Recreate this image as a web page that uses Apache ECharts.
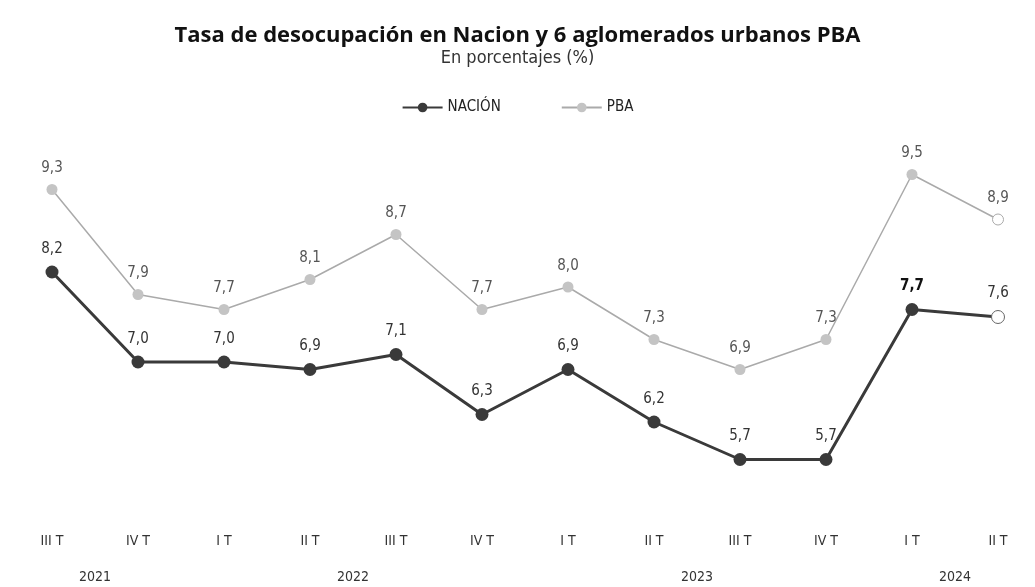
<!DOCTYPE html>
<html>
<head>
<meta charset="utf-8">
<script src="https://cdn.jsdelivr.net/npm/echarts@6/dist/echarts.min.js"></script>
<style>
  html, body { margin: 0; padding: 0; background: #fff; }
  #chart { width: 1035px; height: 587px; }
</style>
</head>
<body>
<div id="chart"></div>
<script>
const quarters = ['III T', 'IV T', 'I T', 'II T', 'III T', 'IV T', 'I T', 'II T', 'III T', 'IV T', 'I T', 'II T']
const years = ['2021', '', '', '2022', '', '', '', '2023', '', '', '2024']
const nacion = [8.2, 7.0, 7.0, 6.9, 7.1, 6.3, 6.9, 6.2, 5.7, 5.7, 7.7, 7.6]
const pba = [9.3, 7.9, 7.7, 8.1, 8.7, 7.7, 8.0, 7.3, 6.9, 7.3, 9.5, 8.9]

const narrow = '"Liberation Sans Narrow", "DejaVu Sans Condensed", "Open Sans", sans-serif'
const fmt = (p) => p.value.toFixed(1).replace('.', ',')

// last point drawn hollow, like the source
function withHollowLast (values, border) {
  return values.map((v, i) => {
    if (i !== values.length - 1) return v
    return { value: v, itemStyle: { color: '#fff', borderColor: border, borderWidth: 1 } }
  })
}

const chart = echarts.init(document.getElementById('chart'))
const option = {
  backgroundColor: '#fff',
  animation: false,
  title: {
    text: 'Tasa de desocupación en Nacion y 6 aglomerados urbanos PBA',
    subtext: 'En porcentajes (%)',
    left: 'center',
    top: 20,
    itemGap: 2,
    textStyle: { fontFamily: '"Open Sans", sans-serif', fontSize: 22, fontWeight: 'bold', color: '#111' },
    subtextStyle: { fontFamily: narrow, fontSize: 18, color: '#333' }
  },
  legend: {
    top: 95,
    left: 'center',
    itemGap: 60,
    itemWidth: 40,
    itemHeight: 12,
    textStyle: { fontFamily: narrow, fontSize: 15, color: '#222' },
    data: ['NACIÓN', 'PBA']
  },
  grid: { left: 52, right: 37, top: 137, bottom: 75 },
  xAxis: [
    {
      type: 'category',
      boundaryGap: false,
      data: quarters,
      axisLine: { show: false },
      axisTick: { show: false },
      axisLabel: { interval: 0, margin: 22, fontFamily: narrow, fontSize: 14, color: '#333' }
    },
    {
      type: 'category',
      position: 'bottom',
      boundaryGap: true,
      data: years,
      axisLine: { show: false },
      axisTick: { show: false },
      axisLabel: { interval: 0, margin: 58, fontFamily: narrow, fontSize: 14, color: '#333' }
    }
  ],
  yAxis: {
    type: 'value',
    min: 5,
    max: 10,
    show: false
  },
  series: [
    {
      name: 'NACIÓN',
      type: 'line',
      data: withHollowLast(nacion, '#666'),
      symbol: 'circle',
      symbolSize: 13,
      itemStyle: { color: '#3a3a3a' },
      lineStyle: { color: '#3a3a3a', width: 3 },
      label: {
        show: true,
        position: 'top',
        distance: 9,
        formatter: fmt,
        fontFamily: narrow,
        fontSize: 15,
        color: '#333'
      },
      z: 3
    },
    {
      name: 'PBA',
      type: 'line',
      data: withHollowLast(pba, '#aaa'),
      symbol: 'circle',
      symbolSize: 11,
      itemStyle: { color: '#c4c4c4' },
      lineStyle: { color: '#aaaaaa', width: 1.5 },
      label: {
        show: true,
        position: 'top',
        distance: 8,
        formatter: fmt,
        fontFamily: narrow,
        fontSize: 15,
        color: '#555'
      },
      z: 2
    }
  ]
}
// "7,7" is bold in the source
option.series[0].data[10] = { value: nacion[10], label: { fontWeight: 'bold', color: '#111' } }
chart.setOption(option)
</script>
</body>
</html>
